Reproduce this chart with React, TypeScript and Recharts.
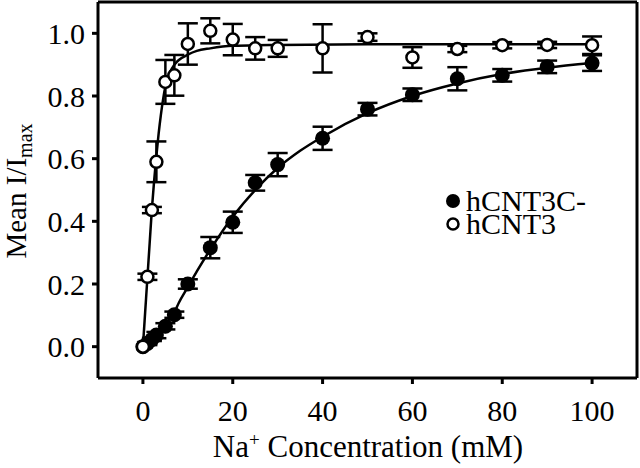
import React from 'react'
import {
  ComposedChart,
  Line,
  Scatter,
  ErrorBar,
  XAxis,
  YAxis,
  ReferenceLine,
  Legend,
  Label,
} from 'recharts'

// Na+ concentrations (mM)
const conc = [0, 1, 2, 3, 5, 7, 10, 15, 20, 25, 30, 40, 50, 60, 70, 80, 90, 100]

// hCNT3 (open circles)
const hcnt3 = [0, 0.223, 0.436, 0.59, 0.845, 0.866, 0.966, 1.008, 0.98, 0.952, 0.952, 0.952, 0.988, 0.923, 0.95, 0.962, 0.963, 0.962]
const hcnt3Err = [0, 0.01, 0.01, 0.065, 0.07, 0.065, 0.066, 0.04, 0.05, 0.036, 0.027, 0.077, 0.012, 0.033, 0.01, 0.01, 0.01, 0.028]

// hCNT3C- (filled circles)
const hcnt3c = [0, 0.01, 0.023, 0.037, 0.065, 0.102, 0.2, 0.316, 0.397, 0.523, 0.581, 0.665, 0.758, 0.804, 0.855, 0.866, 0.893, 0.905]
const hcnt3cErr = [0, 0.005, 0.005, 0.01, 0.01, 0.01, 0.015, 0.034, 0.034, 0.025, 0.037, 0.037, 0.02, 0.02, 0.037, 0.02, 0.02, 0.025]

// fitted curves
const fitOpenX = [0, 0.5, 1, 1.5, 2, 2.5, 3, 3.5, 4, 4.5, 5, 6, 7, 8, 10, 12, 15, 20, 30, 50, 100]
const fitOpenY = [0, 0.11, 0.22, 0.33, 0.44, 0.53, 0.61, 0.68, 0.74, 0.79, 0.83, 0.875, 0.9, 0.915, 0.932, 0.944, 0.952, 0.96, 0.963, 0.965, 0.965]
const fitFilledX = [0, 1, 2, 3, 4, 5, 6, 7, 8, 10, 12, 15, 20, 25, 30, 35, 40, 50, 60, 70, 80, 90, 100]
const fitFilledY = [0, 0.008, 0.02, 0.035, 0.05, 0.07, 0.09, 0.11, 0.14, 0.19, 0.24, 0.31, 0.415, 0.5, 0.57, 0.625, 0.67, 0.745, 0.8, 0.84, 0.87, 0.89, 0.905]

const xTicks = [0, 20, 40, 60, 80, 100]
const yTicks = [0, 0.2, 0.4, 0.6, 0.8, 1.0]

const openPts = conc.map((x, i) => ({ x, y: hcnt3[i], err: hcnt3Err[i] }))
const filledPts = conc.map((x, i) => ({ x, y: hcnt3c[i], err: hcnt3cErr[i] }))
const fitOpen = fitOpenX.map((x, i) => ({ x, y: fitOpenY[i] }))
const fitFilled = fitFilledX.map((x, i) => ({ x, y: fitFilledY[i] }))

const FONT = 'Liberation Serif, DejaVu Serif, Times New Roman, serif'

const NoDot = () => <g />
const FilledDot = (p: any) => <circle cx={p.cx} cy={p.cy} r={7.5} fill="#000" />
const OpenDot = (p: any) => <circle cx={p.cx} cy={p.cy} r={6} fill="#fff" stroke="#000" strokeWidth={2.5} />

const LegendBox = () => (
  <div style={{ fontFamily: FONT, fontSize: 30, lineHeight: '23px', color: '#000' }}>
    <div style={{ display: 'flex', alignItems: 'center' }}>
      <svg width={18} height={18} style={{ marginRight: 4 }}>
        <circle cx={9} cy={9} r={7} fill="#000" />
      </svg>
      <span>hCNT3C-</span>
    </div>
    <div style={{ display: 'flex', alignItems: 'center' }}>
      <svg width={18} height={18} style={{ marginRight: 4 }}>
        <circle cx={9} cy={9} r={5.5} fill="#fff" stroke="#000" strokeWidth={2.5} />
      </svg>
      <span>hCNT3</span>
    </div>
  </div>
)

export default function App() {
  return (
    <div style={{ position: 'absolute', left: 0, top: 0, background: '#fff', fontFamily: FONT }}>
      <ComposedChart
        width={640}
        height={468}
        margin={{ top: 2, right: 3, left: 0, bottom: 0 }}
        style={{ fontFamily: FONT }}
      >
        <XAxis
          dataKey="x"
          type="number"
          domain={[-10, 110]}
          ticks={xTicks}
          allowDataOverflow
          height={90}
          stroke="#000"
          strokeWidth={3}
          tickSize={6}
          tickMargin={16}
          tick={{ fill: '#000', fontSize: 30, fontFamily: FONT }}
        >
          <Label
            content={() => (
              <text x={368} y={457} textAnchor="middle" fill="#000" fontSize={31} fontFamily={FONT} style={{ whiteSpace: 'pre' }}>
                Na<tspan dy={-11} fontSize={19}>+</tspan>
                <tspan dy={11}> Concentration (mM)</tspan>
              </text>
            )}
          />
        </XAxis>
        <YAxis
          type="number"
          domain={[-0.1, 1.1]}
          ticks={yTicks}
          allowDataOverflow
          width={98}
          stroke="#000"
          strokeWidth={3}
          tickSize={6}
          tickMargin={7}
          tickFormatter={(v: number) => v.toFixed(1)}
          tick={{ fill: '#000', fontSize: 30, fontFamily: FONT }}
        >
          <Label
            content={() => (
              <text
                x={-191}
                y={26}
                transform="rotate(-90)"
                textAnchor="middle"
                fill="#000"
                fontSize={29}
                fontFamily={FONT}
              >
                Mean I/I<tspan dy={6} fontSize={20}>max</tspan>
              </text>
            )}
          />
        </YAxis>
        <ReferenceLine y={1.1} stroke="#000" strokeWidth={3} />
        <ReferenceLine x={110} stroke="#000" strokeWidth={3} />

        <Line data={fitFilled} dataKey="y" type="monotone" stroke="#000" strokeWidth={2.5} dot={false} isAnimationActive={false} legendType="none" />
        <Line data={fitOpen} dataKey="y" type="monotone" stroke="#000" strokeWidth={2.5} dot={false} isAnimationActive={false} legendType="none" />

        {/* error bars first, markers drawn on top */}
        <Scatter data={filledPts} dataKey="y" shape={NoDot} isAnimationActive={false} legendType="none">
          <ErrorBar dataKey="err" direction="y" width={10} stroke="#000" strokeWidth={2.5} />
        </Scatter>
        <Scatter data={openPts} dataKey="y" shape={NoDot} isAnimationActive={false} legendType="none">
          <ErrorBar dataKey="err" direction="y" width={10} stroke="#000" strokeWidth={2.5} />
        </Scatter>
        <Scatter name="hCNT3C-" data={filledPts} dataKey="y" shape={FilledDot} isAnimationActive={false} />
        <Scatter name="hCNT3" data={openPts} dataKey="y" shape={OpenDot} isAnimationActive={false} />

        <Legend
          layout="horizontal"
          verticalAlign="middle"
          align="center"
          content={() => <LegendBox />}
          wrapperStyle={{ top: 189, left: 444, width: 170 }}
        />
      </ComposedChart>
    </div>
  )
}
